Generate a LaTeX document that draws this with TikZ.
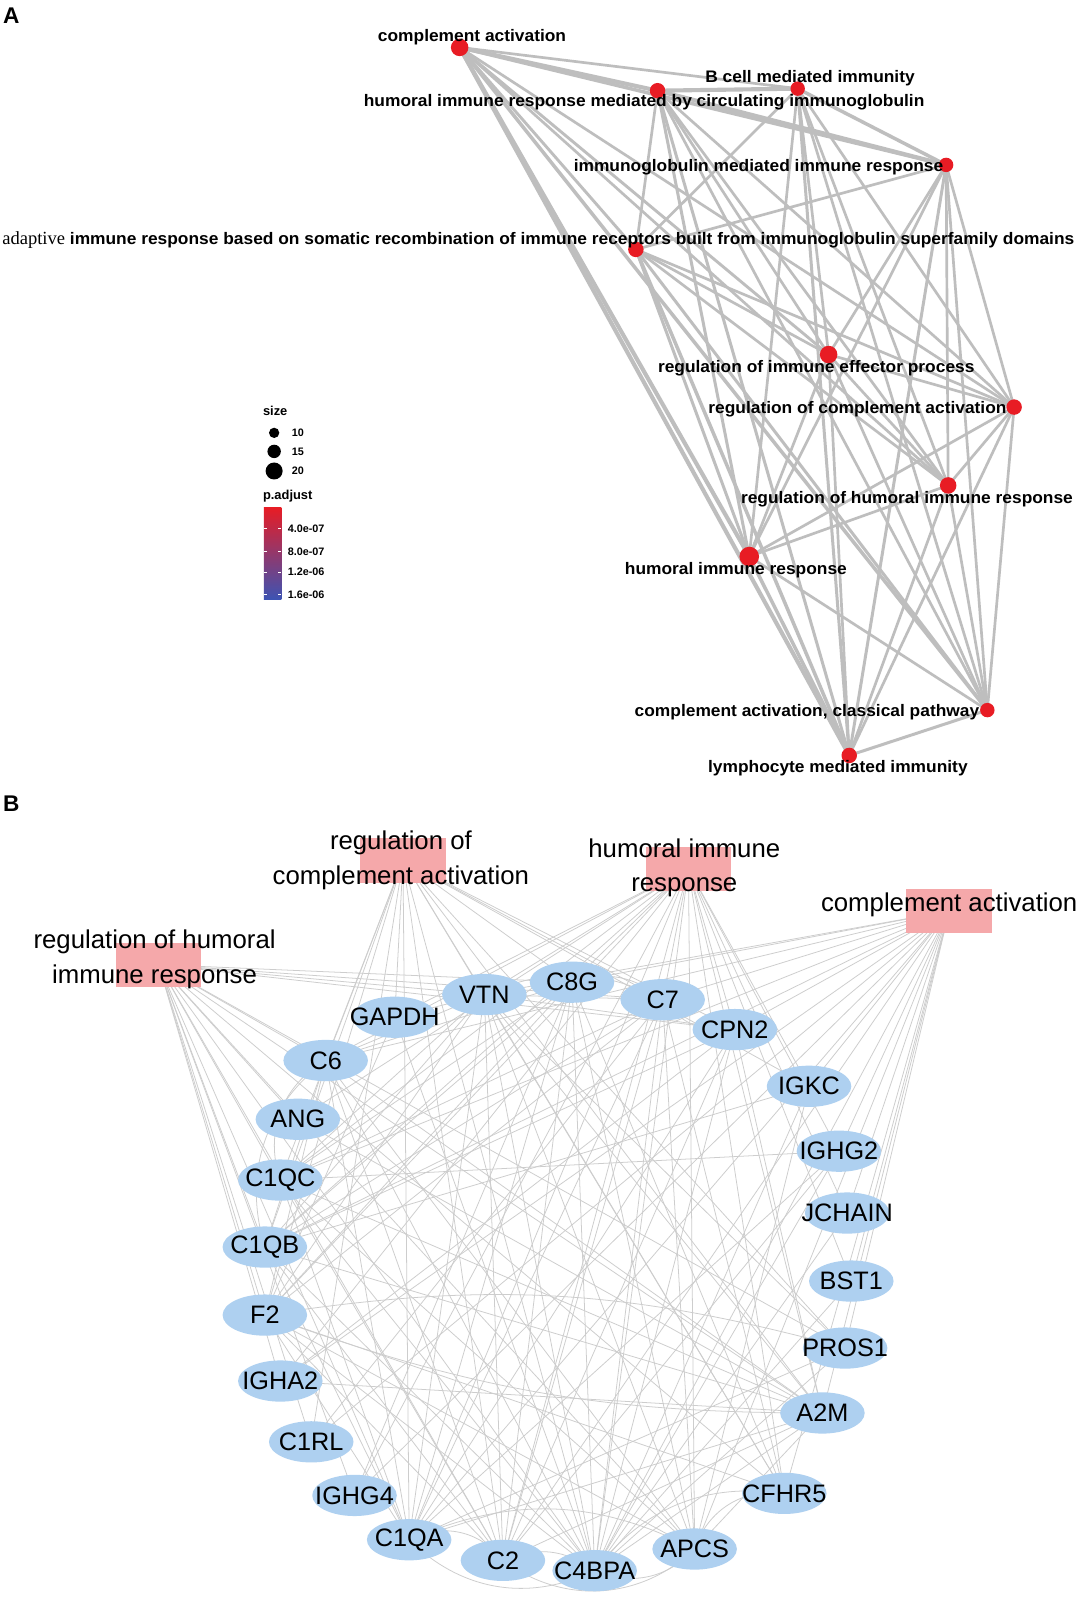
\documentclass[tikz,border=0pt]{standalone}
\usepackage{fontspec}
\setmainfont{Liberation Sans}
\newfontfamily\serifA{Liberation Serif}
\newfontfamily\widesans[FakeStretch=1.04]{Liberation Sans}
\usetikzlibrary{shapes.geometric}
\pgfdeclarelayer{bg}
\pgfdeclarelayer{edges}
\pgfsetlayers{bg,edges,main}
\definecolor{dotred}{RGB}{232,28,36}
\definecolor{edgeA}{RGB}{190,190,190}
\definecolor{edgeB}{RGB}{205,205,205}
\definecolor{termpink}{RGB}{245,168,170}
\definecolor{geneblue}{RGB}{174,208,240}
\definecolor{midmag}{RGB}{200,24,140}
\definecolor{barblue}{RGB}{60,84,180}
\begin{document}
\begin{tikzpicture}[x=1pt,y=-1pt,
  godot/.style={circle,fill=dotred,inner sep=0pt,minimum size=#1},
  lblA/.style={font=\widesans\fontsize{16.2}{18}\selectfont\bfseries,inner sep=0pt},
  eA/.style={draw=edgeA,line width=#1},
  term/.style={rectangle,fill=termpink,minimum width=83pt,minimum height=43pt,inner sep=0pt},
  termtext/.style={font=\fontsize{25}{33.5}\selectfont,align=center,inner sep=0pt},
  gene/.style={ellipse,fill=geneblue,minimum width=82pt,minimum height=40pt,inner sep=0pt},
  genetext/.style={font=\fontsize{24.5}{26}\selectfont,inner sep=0pt},
  eB/.style={draw=edgeB,line width=0.75pt},
  legtxt/.style={font=\fontsize{10.5}{12}\selectfont\bfseries,inner sep=0pt,anchor=west},
  legtitle/.style={font=\fontsize{12.5}{14}\selectfont\bfseries,inner sep=0pt,anchor=west},
  panel/.style={font=\fontsize{22}{24}\selectfont\bfseries,inner sep=0pt}
]
\useasboundingbox (0,0) rectangle (1045,1568);
\begin{pgfonlayer}{bg}
\fill[white] (0,0) rectangle (1045,1568);
\end{pgfonlayer}

% ---------------- Panel A ----------------
\node[panel] (pA) at (11,15) {A};

\node[godot=17pt] (ca) at (446,46) {};
\node[godot=14pt] (bcell) at (774,86) {};
\node[godot=15pt] (hcirc) at (638,88) {};
\node[godot=14pt] (igm) at (918,160) {};
\node[godot=15pt] (adapt) at (617,242) {};
\node[godot=17pt] (rieff) at (804,344) {};
\node[godot=15pt] (rca) at (984,395) {};
\node[godot=16pt] (rhir) at (920,471) {};
\node[godot=19pt] (hir) at (727,540) {};
\node[godot=14pt] (cacl) at (958,689) {};
\node[godot=15pt] (lym) at (824,733) {};

\begin{pgfonlayer}{edges}
\foreach \a/\b/\w in {ca/bcell/2.6, ca/hcirc/4, ca/igm/3.4, ca/adapt/2.8, ca/rieff/2.8, ca/rca/2.6, ca/rhir/2.6, ca/hir/4, ca/cacl/3.4, ca/lym/4,
  bcell/hcirc/4, bcell/igm/3.4, bcell/adapt/2.6, bcell/rieff/2.6, bcell/rca/2.6, bcell/rhir/2.6, bcell/hir/2.6, bcell/cacl/2.6, bcell/lym/2.9,
  hcirc/igm/4, hcirc/adapt/2.6, hcirc/rieff/2.6, hcirc/rca/2.6, hcirc/rhir/2.6, hcirc/hir/2.9, hcirc/cacl/2.6, hcirc/lym/2.9,
  igm/adapt/2.6, igm/rieff/2.6, igm/rca/2.6, igm/rhir/2.6, igm/hir/2.6, igm/cacl/2.6, igm/lym/2.9,
  adapt/rieff/2.6, adapt/rca/2.6, adapt/rhir/2.6, adapt/hir/2.9, adapt/cacl/2.9, adapt/lym/3.4,
  rieff/rca/2.6, rieff/rhir/2.6, rieff/hir/2.6, rieff/cacl/2.6, rieff/lym/2.6,
  rca/rhir/2.6, rca/hir/2.6, rca/cacl/2.6, rca/lym/2.6,
  rhir/hir/2.6, rhir/cacl/2.6, rhir/lym/2.6,
  hir/cacl/2.6, hir/lym/3.4, cacl/lym/2.9}
  \draw[eA=\w] (\a.center) -- (\b.center);
\end{pgfonlayer}

\node[lblA] (ca-l) at (458,36) {complement activation};
\node[lblA] (bcell-l) at (786,76) {B cell mediated immunity};
\node[lblA] (hcirc-l) at (625,99) {humoral immune response mediated by circulating immunoglobulin};
\node[lblA] (igm-l) at (736,162) {immunoglobulin mediated immune response};
\node[lblA,anchor=west] (adapt-l) at (2,233) {{\serifA\mdseries\fontsize{18}{18}\selectfont adaptive} immune response based on somatic recombination of immune receptors built from immunoglobulin superfamily domains};
\node[lblA] (rieff-l) at (792,357) {regulation of immune effector process};
\node[lblA] (rca-l) at (832,397) {regulation of complement activation};
\node[lblA] (rhir-l) at (880,484) {regulation of humoral immune response};
\node[lblA] (hir-l) at (714,553) {humoral immune response};
\node[lblA] (cacl-l) at (783,691) {complement activation, classical pathway};
\node[lblA] (lym-l) at (813,745) {lymphocyte mediated immunity};

% legend
\node[legtitle] (lsize) at (255,399) {size};
\node[circle,fill=black,inner sep=0pt,minimum size=10pt] (s10) at (266,420) {};
\node[circle,fill=black,inner sep=0pt,minimum size=13pt] (s15) at (266,438) {};
\node[circle,fill=black,inner sep=0pt,minimum size=16.5pt] (s20) at (266,457) {};
\node[legtxt] (s10-l) at (283,420) {10};
\node[legtxt] (s15-l) at (283,438) {15};
\node[legtxt] (s20-l) at (283,457) {20};
\node[legtitle] (lpadj) at (255,481) {p.adjust};
\shade[top color=dotred, middle color=midmag, bottom color=barblue] (256,492) rectangle (273,582);
\foreach \yy in {513,535,555,577}{
  \draw[white,line width=0.6pt] (256,\yy) -- (259,\yy) (270,\yy) -- (273,\yy);
}
\node[legtxt] (t1) at (279,513) {4.0e-07};
\node[legtxt] (t2) at (279,535) {8.0e-07};
\node[legtxt] (t3) at (279,555) {1.2e-06};
\node[legtxt] (t4) at (279,577) {1.6e-06};

% ---------------- Panel B ----------------
\node[panel] (pB) at (11,780) {B};

\node[term] (trca) at (391,835) {};
\node[term] (trhir) at (154,936) {};
\node[term] (thir) at (668,843) {};
\node[term] (tca) at (921,884) {};

\foreach \n/\x/\y in {vtn/470/965, c8g/555/953, c7/643/970, cpn2/713/999, gapdh/383/987, c6/316/1029,
  igkc/785/1054, ang/289/1086, ighg2/814/1117, c1qc/272/1145, jchain/822/1177, c1qb/257/1210,
  bst1/826/1243, f2/257/1276, pros1/820/1308, igha2/272/1340, a2m/798/1371, c1rl/302/1399,
  cfhr5/761/1449, ighg4/344/1451, c1qa/397/1494, apcs/674/1503, c2/488/1514, c4bpa/577/1524}
  \node[gene] (\n) at (\x,\y) {};

\begin{pgfonlayer}{edges}
% term-gene edges
\foreach \g in {c1qa,c1qb,c1qc,c2,c4bpa,c6,c7,c8g,c1rl,igkc,ighg2,ighg4,igha2,jchain,cfhr5,apcs,vtn,cpn2,a2m,pros1,bst1}
  \draw[eB] (tca.center) -- (\g.center);
\foreach \g in {c1qa,c1qb,c1qc,c2,c4bpa,c6,c7,c8g,cfhr5,vtn,cpn2,a2m,pros1,f2,c1rl,gapdh,igkc}
  \draw[eB] (trca.center) -- (\g.center);
\foreach \g in {c1qa,c1qb,c1qc,c2,c4bpa,c6,c7,c8g,ang,igkc,ighg2,ighg4,igha2,jchain,bst1,apcs,vtn,cpn2,a2m,gapdh,f2,cfhr5}
  \draw[eB] (thir.center) -- (\g.center);
\foreach \g in {c1qa,c1qb,c1qc,c2,c4bpa,c6,c7,c8g,cfhr5,vtn,cpn2,a2m,pros1,f2,c1rl,ighg4,igha2,ang,apcs}
  \draw[eB] (trhir.center) -- (\g.center);
% gene-gene edges
\foreach \a/\b in {c4bpa/c1qb, c4bpa/c1qc, c4bpa/c6, c4bpa/c7, c4bpa/c8g, c4bpa/vtn, c4bpa/pros1, c4bpa/f2,
  c4bpa/a2m, c4bpa/igkc, c4bpa/ighg2, c4bpa/cpn2, c4bpa/gapdh, c4bpa/bst1, c4bpa/jchain,
  c2/c1qb, c2/c1qc, c2/c6, c2/c7, c2/c8g, c2/vtn, c2/f2, c2/a2m, c2/cpn2, c2/ighg2,
  c1qa/c1qb, c1qa/c1qc, c1qa/c6, c1qa/c7, c1qa/c8g, c1qa/vtn, c1qa/f2, c1qa/a2m, c1qa/ighg2, c1qa/pros1, c1qa/cpn2,
  c1qb/c6, c1qb/c7, c1qb/c8g, c1qb/vtn, c1qb/a2m, c1qb/igkc, c1qb/cpn2,
  c1qc/c7, c1qc/c8g, c1qc/vtn, c1qc/apcs, c1qc/a2m, c1qc/ighg2,
  f2/vtn, f2/c6, f2/c7, f2/gapdh, f2/c8g, f2/apcs, f2/cfhr5,
  a2m/vtn, a2m/ang, a2m/cpn2, a2m/apcs, a2m/igha2, a2m/c6,
  vtn/c6, vtn/c7, vtn/apcs, vtn/gapdh, vtn/cpn2, vtn/pros1, vtn/cfhr5,
  c6/c8g, c6/apcs, c7/apcs, c7/cfhr5, apcs/c8g, apcs/igkc, cfhr5/c8g, c1rl/c7, ighg4/c8g, igha2/cpn2}
  \draw[eB] (\a.center) -- (\b.center);
% curved gene-gene edges
\draw[eB] (c1qa.center) to[bend right=35] (c4bpa.center);
\draw[eB] (c1qa.center) to[bend left=40] (c2.center);
\draw[eB] (c2.center) to[bend right=40] (apcs.center);
\draw[eB] (c2.center) to[bend left=30] (c4bpa.center);
\draw[eB] (c4bpa.center) to[bend right=35] (apcs.center);
\draw[eB] (c4bpa.center) to[bend left=30] (cfhr5.center);
\draw[eB] (apcs.center) to[bend left=40] (cfhr5.center);
\draw[eB] (c1qa.center) to[bend left=25] (apcs.center);
\draw[eB] (f2.center) to[bend left=12] (pros1.center);
\draw[eB] (f2.center) to[bend right=10] (a2m.center);
\draw[eB] (c6.center) to[bend right=40] (c1qc.center);
\draw[eB] (c6.center) to[bend right=35] (c1qb.center);
\draw[eB] (c8g.center) to[bend left=30] (c7.center);
\draw[eB] (vtn.center) to[bend left=25] (c7.center);
\draw[eB] (c7.center) to[bend right=30] (cpn2.center);
\end{pgfonlayer}

\foreach \n/\t in {vtn/VTN, c8g/C8G, c7/C7, cpn2/CPN2, gapdh/GAPDH, c6/C6, igkc/IGKC, ang/ANG, ighg2/IGHG2,
  c1qc/C1QC, jchain/JCHAIN, c1qb/C1QB, bst1/BST1, f2/F2, pros1/PROS1, igha2/IGHA2, a2m/A2M, c1rl/C1RL,
  cfhr5/CFHR5, ighg4/IGHG4, c1qa/C1QA, apcs/APCS, c2/C2, c4bpa/C4BPA}
  \node[genetext] (\n-t) at (\n.center) {\t};

\node[termtext] (trca-l) at (389,835) {regulation of\\complement activation};
\node[termtext] (trhir-l) at (150,931) {regulation of humoral\\immune response};
\node[termtext] (thir-l) at (664,842) {humoral immune\\response};
\node[termtext] (tca-l) at (921,878) {complement activation};
\end{tikzpicture}
\end{document}
